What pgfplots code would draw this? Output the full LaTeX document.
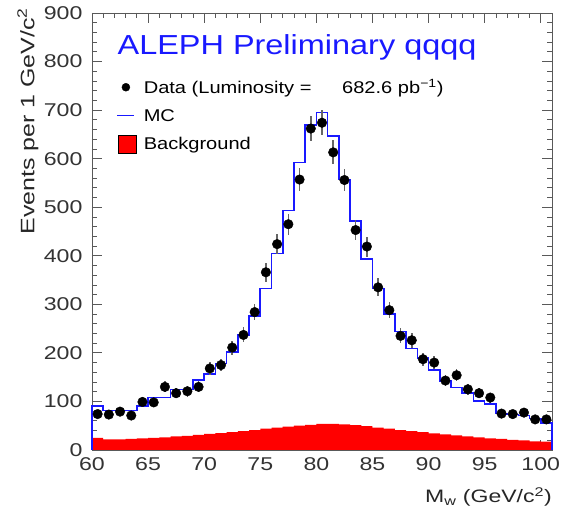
\documentclass[border=0pt]{standalone}
\usepackage{fontspec}
\setmainfont[FakeStretch=1.18]{Liberation Sans}
\newfontfamily\tickfont[FakeStretch=1.25]{Liberation Sans}
\newfontfamily\labelfont[FakeStretch=1.28]{Liberation Sans}
\usepackage{pgfplots}
\usepackage{pgfplotstable}
\pgfplotsset{compat=1.18}

\definecolor{alephblue}{RGB}{25,25,255}

% data points, 1 GeV bins, error = sqrt(N)
\pgfplotstableread{
x     y    ey
60.5  74   8.6
61.5  73   8.5
62.5  79   8.9
63.5  71   8.4
64.5  99   9.9
65.5  98   9.9
66.5  130  11.4
67.5  117  10.8
68.5  121  11.0
69.5  130  11.4
70.5  168  13.0
71.5  175  13.2
72.5  211  14.5
73.5  237  15.4
74.5  284  16.9
75.5  366  19.1
76.5  424  20.6
77.5  465  21.6
78.5  557  23.6
79.5  662  25.7
80.5  674  26.0
81.5  613  24.8
82.5  556  23.6
83.5  453  21.3
84.5  419  20.5
85.5  335  18.3
86.5  288  17.0
87.5  235  15.3
88.5  226  15.0
89.5  187  13.7
90.5  180  13.4
91.5  143  12.0
92.5  154  12.4
93.5  125  11.2
94.5  117  10.8
95.5  108  10.4
96.5  75   8.7
97.5  74   8.6
98.5  77   8.8
99.5  63   7.9
100.5 63   7.9
}\datatable

% MC histogram (bin left edges)
\pgfplotstableread{
x    mc
60   0
60   90
61   81
62   81
63   81
64   90
65   108
66   108
67   125
68   125
69   144
70   156
71   178
72   202
73   237
74   276
75   333
76   405
77   493
78   592
79   669
80   695
81   647
82   557
83   472
84   393
85   333
86   280
87   244
88   209
89   189
90   165
91   142
92   129
93   118
94   101
95   95
96   75
97   73
98   71
99   65
100  56
101  56
101  0
}\mctable

% background histogram
\pgfplotstableread{
x    bg
60   25
61   22
62   22
63   23
64   24
65   25
66   26
67   28
68   29
69   31
70   33
71   35
72   37
73   39
74   41
75   44
76   46
77   48
78   50
79   52
80   54
81   54
82   53
83   51
84   49
85   46
86   44
87   41
88   39
89   37
90   34
91   32
92   30
93   28
94   26
95   24
96   23
97   21
98   20
99   18
100  17
101  17
}\bgtable

\begin{document}
\begin{tikzpicture}
\begin{axis}[
    scale only axis,
    width=460pt, height=437pt,
    xmin=60, xmax=101,
    ymin=0, ymax=900,
    xtick={60,65,...,100},
    ytick={0,100,...,900},
    minor x tick num=4,
    minor y tick num=4,
    tick align=inside,
    xtick pos=both, ytick pos=both,
    major tick length=10pt,
    minor tick length=5pt,
    axis line style={black!65, line width=0.9pt},
    every tick/.style={black!65, line width=0.8pt},
    /pgf/number format/assume math mode=true,
    /pgf/number format/set thousands separator={},
    ticklabel style={font=\tickfont\fontsize{18.5}{21}\selectfont, text=black!80},
    xticklabel style={yshift=-4pt},
    yticklabel style={xshift=-6pt},
    clip=false,
    legend cell align=left,
    legend style={draw=none, fill=none, at={(rel axis cs:0.047,0.858)}, anchor=north west,
        font=\fontsize{17}{20}\selectfont, row sep=10pt, column sep=5pt},
]
\addlegendimage{only marks, mark=*, black, mark size=4pt}
\addlegendentry{Data (Luminosity =\hspace{1.8em}682.6 pb\textsuperscript{−1})}
\addlegendimage{alephblue, line width=1.1pt}
\addlegendentry{MC}
\addlegendimage{legend image code/.code={\draw[fill=red, draw=black, line width=0.8pt] (1pt,-9pt) rectangle (19pt,9pt);}}
\addlegendentry{Background}

\addplot[fill=red, draw=none, const plot mark left, forget plot]
    table[x=x, y=bg] {\bgtable} \closedcycle;
\addplot[alephblue, line width=1.6pt, const plot mark left, forget plot]
    table[x=x, y=mc] {\mctable};
\addplot[only marks, mark=*, black, mark size=4.8pt, forget plot,
    error bars/.cd, y dir=both, y explicit,
    error bar style={black!60, line width=1.6pt}, error mark=none]
    table[x=x, y=y, y error=ey] {\datatable};

\node[anchor=base west, text=alephblue, font=\fontsize{27.5}{32}\selectfont]
    at (rel axis cs:0.048,0.904) {ALEPH Preliminary qqqq};
\node[rotate=90, anchor=north east, inner sep=0pt, font=\labelfont\fontsize{19.5}{22}\selectfont, text=black!85]
    at (rel axis cs:-0.163,1.012) {Events per 1 GeV/c\textsuperscript{2}};
\node[anchor=north east, inner sep=0pt, font=\labelfont\fontsize{18}{21}\selectfont, text=black!85]
    at (rel axis cs:1.0,-0.085) {M\textsubscript{w} (GeV/c\textsuperscript{2})};
\end{axis}
\path ([xshift=-92pt,yshift=-58pt]current axis.south west)
    rectangle ([xshift=18pt,yshift=13pt]current axis.north east);
\end{tikzpicture}
\end{document}
